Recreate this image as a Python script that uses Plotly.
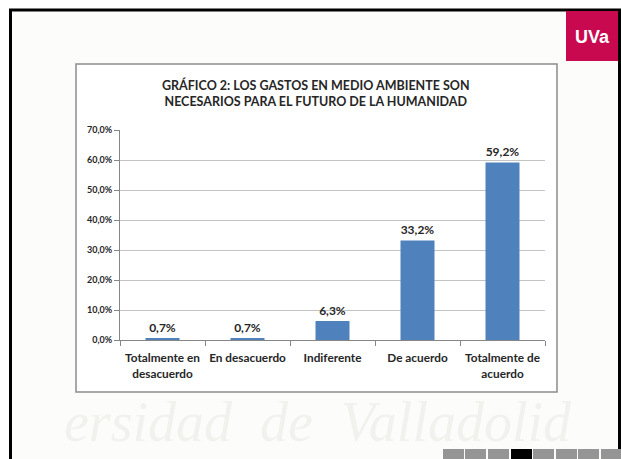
import plotly.graph_objects as go

# ── Data ──────────────────────────────────────────────────────────────────────
categories = [
    "Totalmente en<br>desacuerdo",
    "En desacuerdo",
    "Indiferente",
    "De acuerdo",
    "Totalmente de<br>acuerdo",
]
values = [0.7, 0.7, 6.3, 33.2, 59.2]
value_labels = ["0,7%", "0,7%", "6,3%", "33,2%", "59,2%"]
title_text = ("GRÁFICO 2: LOS GASTOS EN MEDIO AMBIENTE SON<br>"
              "NECESARIOS PARA EL FUTURO DE LA HUMANIDAD")

W, H = 621, 459
FONT = "Lato, 'Open Sans', sans-serif"
BAR_BLUE = "#4F81BD"


def px(x):
    return x / W


def py(y):
    return 1 - y / H


def paper_shape(**kw):
    kw.update(xref="paper", yref="paper")
    return kw


def paper_text(text, x, y, font, **kw):
    return dict(text=text, x=px(x), y=py(y), xref="paper", yref="paper",
                xanchor="center", yanchor="middle", showarrow=False, font=font, **kw)


fig = go.Figure(go.Bar(
    x=categories,
    y=values,
    width=0.4,
    marker=dict(color=BAR_BLUE, line=dict(width=0)),
    text=value_labels,
    textposition="outside",
    textfont=dict(size=12, color="#262626", family=FONT, weight="bold"),
    cliponaxis=False,
))

shapes = [
    # slide background
    paper_shape(type="rect", x0=px(10), x1=px(620), y0=py(459), y1=py(10),
                fillcolor="#FCFCFA", line=dict(width=0), layer="below"),
    # chart box
    paper_shape(type="rect", x0=px(76), x1=px(557), y0=py(392), y1=py(64),
                fillcolor="white", line=dict(color="#8C8C8C", width=1.5), layer="below"),
    # outer black frame
    paper_shape(type="line", x0=px(10.5), x1=px(10.5), y0=py(459), y1=py(9),
                line=dict(color="black", width=3)),
    paper_shape(type="line", x0=px(9), x1=px(621), y0=py(10), y1=py(10),
                line=dict(color="black", width=3)),
    paper_shape(type="line", x0=px(619.5), x1=px(619.5), y0=py(459), y1=py(9),
                line=dict(color="black", width=3)),
    # UVa logo box
    paper_shape(type="rect", x0=px(566), x1=px(618), y0=py(61), y1=py(11),
                fillcolor="#C8094F", line=dict(width=0)),
]

# slide pager
pager_x = [443, 465, 488, 511, 533, 556, 578, 601]
for i, x0 in enumerate(pager_x):
    shapes.append(paper_shape(
        type="rect", x0=px(x0), x1=px(x0 + 21), y0=py(459), y1=py(449),
        fillcolor="black" if i == 3 else "#959595", line=dict(width=0)))

annotations = [
    paper_text("UVa", 592, 37,
               dict(size=18, color="white", family="'Liberation Sans', Arial, sans-serif", weight="bold")),
    # faint watermark below the chart box
    paper_text("ersidad  de  Valladolid", 318, 422,
               dict(size=56, color="rgba(120,110,100,0.08)", family="'Liberation Serif', serif",
                    style="italic")),
    paper_text(title_text, 316, 93,
               dict(size=12.5, color="#262626", family=FONT, weight="bold"), align="center"),
]

fig.update_layout(
    width=W,
    height=H,
    margin=dict(l=0, r=0, t=0, b=0),
    paper_bgcolor="white",
    plot_bgcolor="rgba(0,0,0,0)",
    separators=",.",
    showlegend=False,
    shapes=shapes,
    annotations=annotations,
    xaxis=dict(
        domain=[px(120), px(545)],
        automargin=False,
        tickangle=0,
        ticklabelstandoff=7,
        showline=True, linecolor="#868686", linewidth=1,
        ticks="outside", tickson="boundaries", ticklen=5, tickcolor="#868686",
        tickfont=dict(size=11.8, color="#262626", family=FONT, weight="bold"),
        showgrid=False,
    ),
    yaxis=dict(
        domain=[py(340), py(130)],
        automargin=False,
        range=[0, 70], dtick=10,
        tickformat=".1f", ticksuffix="%",
        showline=True, linecolor="#868686", linewidth=1,
        ticks="outside", ticklen=5, tickcolor="#868686",
        gridcolor="#C4C4C4", gridwidth=1,
        zeroline=False,
        tickfont=dict(size=9, color="#262626", family=FONT, weight="bold"),
    ),
)

# the page body has a default margin; drop it so the figure fills the window
fig.write_html("out.html", config={"displayModeBar": False},
               post_script="document.body.style.margin='0';")
